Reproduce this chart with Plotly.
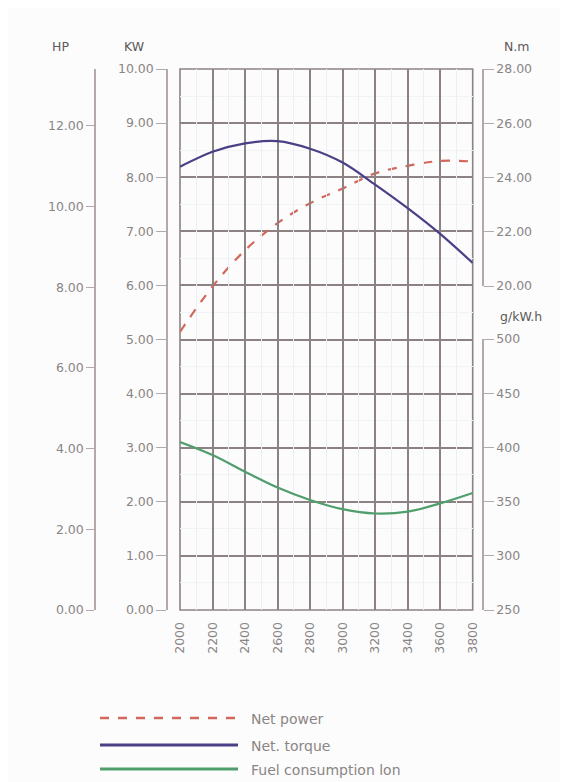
import plotly.graph_objects as go

# page is offset by the browser's 8px body margin
OFF = 8
W, H = 568 - OFF, 782 - OFF

rpm = [2000, 2200, 2400, 2600, 2800, 3000, 3200, 3400, 3600, 3800]
net_power_kw = [5.14, 5.98, 6.65, 7.15, 7.52, 7.79, 8.07, 8.21, 8.30, 8.29]
net_torque_nm = [24.4, 24.95, 25.26, 25.34, 25.06, 24.55, 23.74, 22.87, 21.92, 20.85]
fuel_gkwh = [405, 393, 377.6, 363, 351.5, 343, 339, 340.7, 348.4, 358]

kw_ticks = [0, 1, 2, 3, 4, 5, 6, 7, 8, 9, 10]
hp_ticks = [0, 2, 4, 6, 8, 10, 12]
nm_ticks = [20, 22, 24, 26, 28]
g_ticks = [250, 300, 350, 400, 450, 500]
KW_TO_HP = 1.341

legend_names = ["Net power", "Net. torque", "Fuel consumption lon"]
colors = ["#d2675c", "#4b3f86", "#4f9e6c"]

def px(x):
    return (x - OFF) / W

def py(y):
    return 1 - (y - OFF) / H

GRID = "#8d8283"
AXL = "#b3a9a9"
TXT = "#8a8585"
FONT = "DejaVu Sans"

fig = go.Figure()
# invisible trace to make the HP axis render (same power in HP)
fig.add_trace(go.Scatter(x=rpm, y=[v * KW_TO_HP for v in net_power_kw], mode="lines",
                         yaxis="y2", line=dict(width=0, color="rgba(0,0,0,0)"),
                         hoverinfo="skip", showlegend=False))
fig.add_trace(go.Scatter(x=rpm, y=net_torque_nm, mode="lines", yaxis="y3",
                         line=dict(color=colors[1], width=2.2, shape="spline", smoothing=0.9),
                         showlegend=False))
fig.add_trace(go.Scatter(x=rpm, y=fuel_gkwh, mode="lines", yaxis="y4",
                         line=dict(color=colors[2], width=2.2, shape="spline"),
                         showlegend=False))
fig.add_trace(go.Scatter(x=rpm, y=net_power_kw, mode="lines", yaxis="y",
                         line=dict(color=colors[0], width=2.2, dash="dash", shape="spline"),
                         showlegend=False))

tickfont = dict(family=FONT, size=12.5, color=TXT)

fig.update_layout(
    width=W, height=H,
    margin=dict(l=0, r=0, t=0, b=0),
    paper_bgcolor="#fcfcfc",
    plot_bgcolor="rgba(0,0,0,0)",
    showlegend=False,
    xaxis=dict(domain=[px(180), px(472.7)], range=[2000, 3800],
               tickvals=rpm, ticktext=[str(v) for v in rpm], tickangle=-90,
               showgrid=True, gridcolor=GRID, gridwidth=1.6,
               zeroline=False, showline=False, ticks="outside", ticklen=6,
               tickcolor="rgba(0,0,0,0)", tickfont=tickfont,
               automargin=False,
               minor=dict(tickvals=[v + 100 for v in rpm[:-1]], showgrid=True,
                          gridcolor="#eaf0f5", gridwidth=1)),
    yaxis=dict(domain=[py(610), py(69)], range=[0, 10],
               tickvals=kw_ticks, ticktext=["%.2f" % v for v in kw_ticks],
               anchor="free", position=px(167), side="left",
               showgrid=True, gridcolor=GRID, gridwidth=1.6, zeroline=False,
               showline=True, linecolor=AXL, linewidth=1.5,
               ticks="outside", ticklen=10, tickcolor=AXL, tickwidth=1.2,
               tickfont=tickfont, automargin=False,
               minor=dict(tickvals=[v + 0.5 for v in kw_ticks[:-1]], showgrid=True,
                          gridcolor="#f1f4f7", gridwidth=1)),
    yaxis2=dict(range=[0, 10 * KW_TO_HP], overlaying="y",
                tickvals=hp_ticks, ticktext=["%.2f" % v for v in hp_ticks],
                anchor="free", position=px(95), side="left",
                showgrid=False, zeroline=False,
                showline=True, linecolor=AXL, linewidth=1.5,
                ticks="outside", ticklen=8, tickcolor=AXL, tickwidth=1.2,
                tickfont=tickfont, automargin=False),
    yaxis3=dict(domain=[py(286), py(69)], range=[20, 28],
                tickvals=nm_ticks, ticktext=["%.2f" % v for v in nm_ticks],
                anchor="free", position=px(483), side="right",
                showgrid=False, zeroline=False,
                showline=True, linecolor=AXL, linewidth=1.5,
                ticks="outside", ticklen=10, tickcolor=AXL, tickwidth=1.2,
                tickfont=tickfont, automargin=False),
    yaxis4=dict(domain=[py(610), py(339)], range=[250, 500],
                tickvals=g_ticks, ticktext=[str(v) for v in g_ticks],
                anchor="free", position=px(483), side="right",
                showgrid=False, zeroline=False,
                showline=True, linecolor=AXL, linewidth=1.5,
                ticks="outside", ticklen=10, tickcolor=AXL, tickwidth=1.2,
                tickfont=tickfont, automargin=False),
)

# plot frame
fig.add_shape(type="rect", xref="paper", yref="paper",
              x0=px(180), x1=px(472.7), y0=py(610), y1=py(69),
              line=dict(color=GRID, width=1.6), layer="below")

# axis titles
for txt, x, y in [("HP", 60, 46), ("KW", 134, 46), ("N.m", 517, 46), ("g/kW.h", 521, 316)]:
    fig.add_annotation(text=txt, x=px(x), y=py(y), xref="paper", yref="paper",
                       showarrow=False, font=dict(family=FONT, size=12.5, color="#5e5858"),
                       xanchor="center", yanchor="middle")

# legend drawn manually
leg_y = [718, 745, 769]
for name, c, yy, d in zip(legend_names, colors, leg_y, ["dash", "solid", "solid"]):
    fig.add_shape(type="line", xref="paper", yref="paper",
                  x0=px(100), x1=px(238), y0=py(yy), y1=py(yy),
                  line=dict(color=c, width=3 if d == "solid" else 2.5, dash=d))
    fig.add_annotation(text=name, x=px(249), y=py(yy + 1), xref="paper", yref="paper",
                       showarrow=False, xanchor="left", yanchor="middle",
                       font=dict(family=FONT, size=14, color=TXT))

fig.write_html("out.html")
